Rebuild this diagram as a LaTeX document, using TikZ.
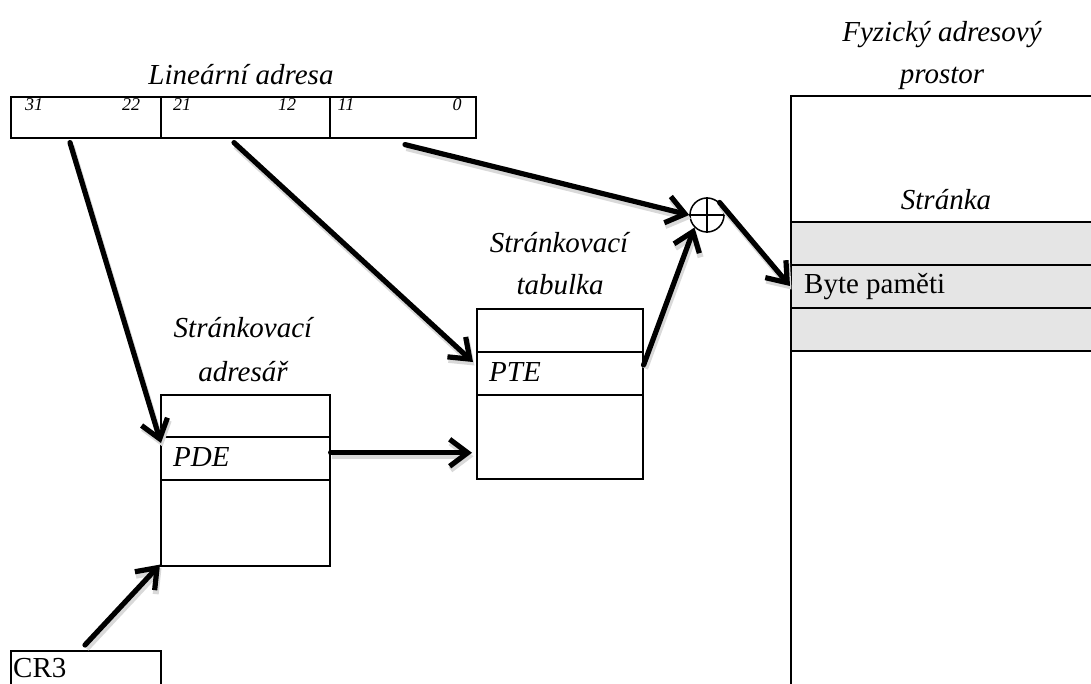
\documentclass[tikz,border=0pt]{standalone}
\usepackage{fontspec}
\setmainfont{Liberation Serif}
\usetikzlibrary{arrows.meta,calc}
\begin{document}
\begin{tikzpicture}[x=1pt,y=-1pt,
  cell/.style={draw,line width=1.6pt,inner sep=0pt,anchor=north west},
  lbl/.style={font=\fontsize{29}{33}\selectfont\itshape,inner sep=0pt},
  txt/.style={font=\fontsize{29}{33}\selectfont,inner sep=0pt,anchor=west},
  bits/.style={font=\fontsize{18}{20}\selectfont\itshape,inner sep=0pt,anchor=north},
  arr/.style={line width=5.2pt,line cap=round,-{Straight Barb[length=18pt,width=27pt]},
    preaction={draw=black!15,line width=6pt,transform canvas={shift={(1.5,3.5)}}}}]
\useasboundingbox (0,0) rectangle (1091,684);

% linear address register
\node[cell,minimum width=150pt,minimum height=41pt] (lin1) at (10,96) {};
\node[cell,minimum width=169pt,minimum height=41pt] (lin2) at (160,96) {};
\node[cell,minimum width=146pt,minimum height=41pt] (lin3) at (329,96) {};
\node[lbl] (linlbl) at (241,75) {Lineární adresa};
\node[bits] (b31) at (34,98) {31};
\node[bits] (b22) at (131,98) {22};
\node[bits] (b21) at (182,98) {21};
\node[bits] (b12) at (287,98) {12};
\node[bits] (b11) at (346,98) {11};
\node[bits] (b0) at (457,98) {0};

% physical address space
\fill[gray!20] (791,222) rectangle (1091,351);
\draw[line width=1.6pt] (1091,96) -- (791,96) -- (791,684);
\foreach \yy in {222,265,308,351} \draw[line width=1.6pt] (791,\yy) -- (1091,\yy);
\node[lbl] (fyz1) at (942,35) {Fyzický adresový};
\node[lbl] (fyz2) at (942,78) {prostor};
\node[lbl] (page) at (946,200) {Stránka};
\node[txt] (byte) at (804,287) {Byte paměti};
\coordinate (bytein) at (790,286);

% adder
\node[draw,circle,line width=1.5pt,minimum size=34pt,inner sep=0pt] (sum) at (707,215) {};
\draw[line width=1.5pt] (sum.north) -- (sum.south) (sum.west) -- (sum.east);

% page table
\node[cell,minimum width=166pt,minimum height=43pt] (pt1) at (476,308) {};
\node[cell,minimum width=166pt,minimum height=43pt] (pte) at (476,351) {};
\node[cell,minimum width=166pt,minimum height=84pt] (pt3) at (476,394) {};
\node[lbl,anchor=west] (ptelbl) at (489,372) {PTE};
\node[lbl] (ptl1) at (559,243) {Stránkovací};
\node[lbl] (ptl2) at (560,285) {tabulka};

% page directory
\node[cell,minimum width=169pt,minimum height=42pt] (pd1) at (160,394) {};
\node[cell,minimum width=169pt,minimum height=43pt] (pde) at (160,436) {};
\node[cell,minimum width=169pt,minimum height=86pt] (pd3) at (160,479) {};
\node[lbl,anchor=west] (pdelbl) at (173,457) {PDE};
\node[lbl] (pdl1) at (243,328) {Stránkovací};
\node[lbl] (pdl2) at (243,372) {adresář};

% CR3 register
\node[cell,minimum width=150pt,minimum height=40pt] (cr3) at (10,650) {};
\node[txt] (cr3lbl) at (13,668) {CR3};

% connectors
\draw[arr] ($(lin1.south west)+(60,4)$) -- ($(pde.north west)+(1,7)$);
\draw[arr] ($(lin2.south west)+(74,4)$) -- ($(pte.north west)+(-3,11)$);
\draw[arr] ($(lin3.south west)+(76,6)$) -- (sum.west);
\draw[arr] ($(pde.east)+(0,-5.5)$) -- ($(pt3.west)+(-4,16)$);
\draw[arr] ($(pte.north east)+(0,14)$) -- (sum.south west);
\draw[arr] (sum.north east) -- (bytein);
\draw[arr] ($(cr3.north west)+(75,-5)$) -- ($(pd3.south west)+(0,-2)$);
\end{tikzpicture}
\end{document}
